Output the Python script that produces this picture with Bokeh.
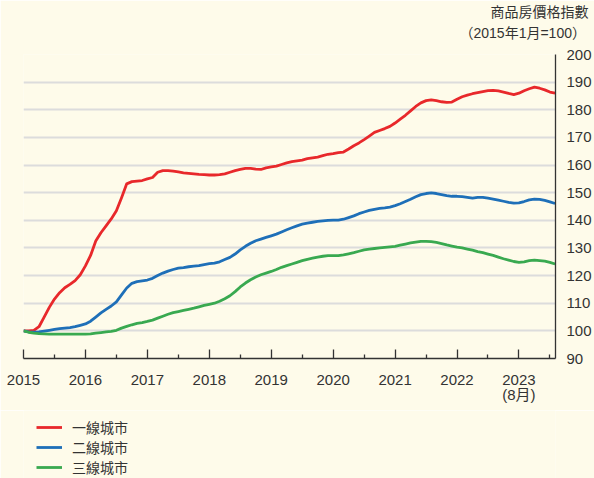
from bokeh.plotting import figure
from bokeh.layouts import column
from bokeh.models import FixedTicker, Legend, LegendItem, Range1d, Title
from bokeh.embed import file_html
from bokeh.resources import INLINE

# Monthly index, 2015-01 .. 2023-08 (2015年1月 = 100)
months = [f"{2015 + i // 12}-{i % 12 + 1:02d}" for i in range(104)]

tier1 = [100.0, 100.0, 100.2, 101.5, 105.0, 108.5, 111.5, 113.8, 115.6, 116.8, 118.2, 120.3,
         123.5, 127.3, 132.5, 135.5, 138.0, 140.5, 143.5, 148.2, 153.2, 154.0, 154.2, 154.4,
         155.0, 155.5, 157.4, 158.0, 158.0, 157.8, 157.5, 157.2, 157.0, 156.8, 156.6, 156.5,
         156.4, 156.4, 156.5, 156.8, 157.4, 158.0, 158.4, 158.8, 158.8, 158.5, 158.4, 159.0,
         159.3, 159.6, 160.2, 160.8, 161.2, 161.5, 161.8, 162.3, 162.6, 162.9, 163.4, 163.9,
         164.1, 164.5, 164.7, 165.8, 167.0, 168.0, 169.2, 170.5, 171.8, 172.5, 173.2, 174.0,
         175.2, 176.6, 178.0, 179.6, 181.2, 182.5, 183.3, 183.6, 183.3, 182.9, 182.7, 182.8,
         183.8, 184.7, 185.3, 185.8, 186.2, 186.6, 186.9, 187.0, 186.8, 186.4, 185.9, 185.5,
         186.0, 186.9, 187.6, 188.2, 187.8, 187.2, 186.4, 186.0]

tier2 = [100.0, 99.6, 99.5, 99.6, 99.9, 100.2, 100.5, 100.8, 101.0, 101.2, 101.5, 102.0,
         102.5, 103.5, 105.0, 106.5, 107.8, 109.0, 110.5, 113.0, 115.5, 117.2, 117.8, 118.1,
         118.4, 119.0, 120.0, 120.9, 121.6, 122.2, 122.7, 122.9, 123.2, 123.4, 123.6, 124.0,
         124.3, 124.5, 125.0, 125.8, 126.6, 127.8, 129.3, 130.6, 131.7, 132.6, 133.2, 133.8,
         134.4, 135.0, 135.8, 136.6, 137.3, 138.0, 138.6, 139.0, 139.3, 139.6, 139.8, 140.0,
         140.1, 140.1, 140.4, 141.0, 141.6, 142.4, 143.0, 143.6, 144.0, 144.3, 144.5, 144.8,
         145.3, 146.0, 146.8, 147.6, 148.5, 149.3, 149.7, 149.9, 149.7, 149.3, 148.9, 148.7,
         148.7, 148.6, 148.3, 148.0, 148.3, 148.3, 148.0, 147.7, 147.3, 146.9, 146.5, 146.2,
         146.3, 146.8, 147.4, 147.7, 147.6, 147.2, 146.7, 146.1]

tier3 = [100.0, 99.5, 99.2, 99.0, 98.9, 98.8, 98.8, 98.8, 98.8, 98.8, 98.8, 98.8,
         98.8, 98.9, 99.2, 99.4, 99.6, 99.8, 100.2, 101.0, 101.6, 102.2, 102.7, 103.0,
         103.4, 103.9, 104.6, 105.3, 106.0, 106.6, 107.0, 107.4, 107.8, 108.2, 108.7, 109.2,
         109.6, 110.0, 110.7, 111.6, 112.7, 114.2, 115.9, 117.3, 118.5, 119.5, 120.3, 120.9,
         121.5, 122.2, 123.0, 123.6, 124.2, 124.8, 125.4, 125.9, 126.3, 126.7, 127.0, 127.2,
         127.2, 127.2, 127.5, 127.9, 128.3, 128.8, 129.3, 129.6, 129.8, 130.0, 130.2, 130.4,
         130.6, 131.0, 131.4, 131.8, 132.1, 132.4, 132.4, 132.3, 132.0, 131.6, 131.1, 130.7,
         130.3, 130.0, 129.6, 129.2, 128.7, 128.3, 127.8, 127.3, 126.7, 126.1, 125.6, 125.1,
         124.8, 125.0, 125.4, 125.6, 125.4, 125.2, 124.8, 124.2]

series = [tier1, tier2, tier3]
series_names = ["一線城市", "二線城市", "三線城市"]
series_colors = ["#e8282b", "#1e6fb8", "#39a950"]

x_ticks = [2015, 2016, 2017, 2018, 2019, 2020, 2021, 2022, 2023]
x_minor_ticks = [2015.5, 2016.5, 2017.5, 2018.5, 2019.5, 2020.5, 2021.5, 2022.5, 2023.5]
x_tick_overrides = {2023: "2023\n(8月)"}
y_ticks = [90, 100, 110, 120, 130, 140, 150, 160, 170, 180, 190, 200]
grid_ticks = [100, 110, 120, 130, 140, 150, 160, 170, 180, 190]

title_main = "商品房價格指數"
title_sub = "（2015年1月=100）"

# decimal year of each month
x = [int(m[:4]) + (int(m[5:]) - 1) / 12 for m in months]

BG = "#fefbea"
TXT = "#333333"
FONT = "Liberation Sans, Noto Sans CJK TC"
W = 594
H_MAIN, H_LEG = 410, 68
BL, BR = 23, 38

# ---- main chart ----
p = figure(width=W, height=H_MAIN, output_backend="svg", toolbar_location=None, title=None,
           x_range=Range1d(2015, 2023.59), y_range=Range1d(90, 200),
           y_axis_location="right",
           min_border_left=BL, min_border_right=BR, min_border_top=54, min_border_bottom=52)
p.background_fill_color = BG
p.border_fill_color = BG
p.outline_line_color = None

p.xgrid.visible = False
p.ygrid.ticker = FixedTicker(ticks=grid_ticks)
p.ygrid.grid_line_color = "#dcdcdc"
p.ygrid.grid_line_width = 2

xa = p.xaxis[0]
xa.ticker = FixedTicker(ticks=x_ticks, minor_ticks=x_minor_ticks)
xa.major_label_overrides = x_tick_overrides
xa.major_tick_in = 9
xa.major_tick_out = 0
xa.minor_tick_in = 4
xa.minor_tick_out = 0
xa.axis_line_color = TXT
xa.major_tick_line_color = TXT
xa.minor_tick_line_color = TXT
xa.axis_line_width = 1.3
xa.major_tick_line_width = 1.3
xa.minor_tick_line_width = 1.3
xa.major_label_standoff = 12
xa.major_label_text_font_size = "15px"
xa.major_label_text_color = TXT
xa.major_label_text_font = FONT
xa.major_label_text_line_height = 0.9

ya = p.yaxis[0]
ya.ticker = FixedTicker(ticks=y_ticks)
ya.major_tick_in = 0
ya.major_tick_out = 0
ya.minor_tick_in = 0
ya.minor_tick_out = 0
ya.axis_line_color = TXT
ya.axis_line_width = 1.3
ya.major_label_standoff = 11
ya.major_label_text_font_size = "15px"
ya.major_label_text_color = TXT
ya.major_label_text_font = FONT

for ys, c in zip(series, series_colors):
    p.line(x, ys, line_color=c, line_width=2.8, line_join="round")

# titles above the frame (added first = nearest the frame)
p.add_layout(Title(text=" ", text_font_size="6px", standoff=3), "above")
p.add_layout(Title(text=title_sub, align="left", offset=436, standoff=6,
                   text_font_size="14px", text_font_style="normal",
                   text_color=TXT, text_font=FONT), "above")
p.add_layout(Title(text=title_main, align="left", offset=467, standoff=0,
                   text_font_size="14px", text_font_style="normal",
                   text_color=TXT, text_font=FONT), "above")

# ---- legend strip (same borders as the chart, so frames line up) ----
leg = figure(width=W, height=H_LEG, output_backend="svg", toolbar_location=None, title=None,
             x_range=Range1d(0, 1), y_range=Range1d(0, 1),
             min_border_left=BL, min_border_right=BR, min_border_top=0, min_border_bottom=0,
             x_axis_type=None, y_axis_type=None)
leg.background_fill_color = BG
leg.border_fill_color = BG
leg.outline_line_color = None
leg.grid.visible = False
items = []
for n, ys, c in zip(series_names, series, series_colors):
    r = leg.line(x, ys, line_color=c, line_width=2.8)   # outside this strip's ranges
    items.append(LegendItem(label=n, renderers=[r]))
leg.add_layout(Legend(items=items, location=(13, 1), orientation="vertical",
                      border_line_color=None, background_fill_alpha=0,
                      padding=0, margin=0, spacing=0,
                      glyph_width=26, glyph_height=20, label_height=20,
                      label_standoff=10, label_text_font_size="14px",
                      label_text_color=TXT, label_text_font=FONT))

layout = column(p, leg, spacing=0)
open("out.html", "w").write(file_html(layout, INLINE))
